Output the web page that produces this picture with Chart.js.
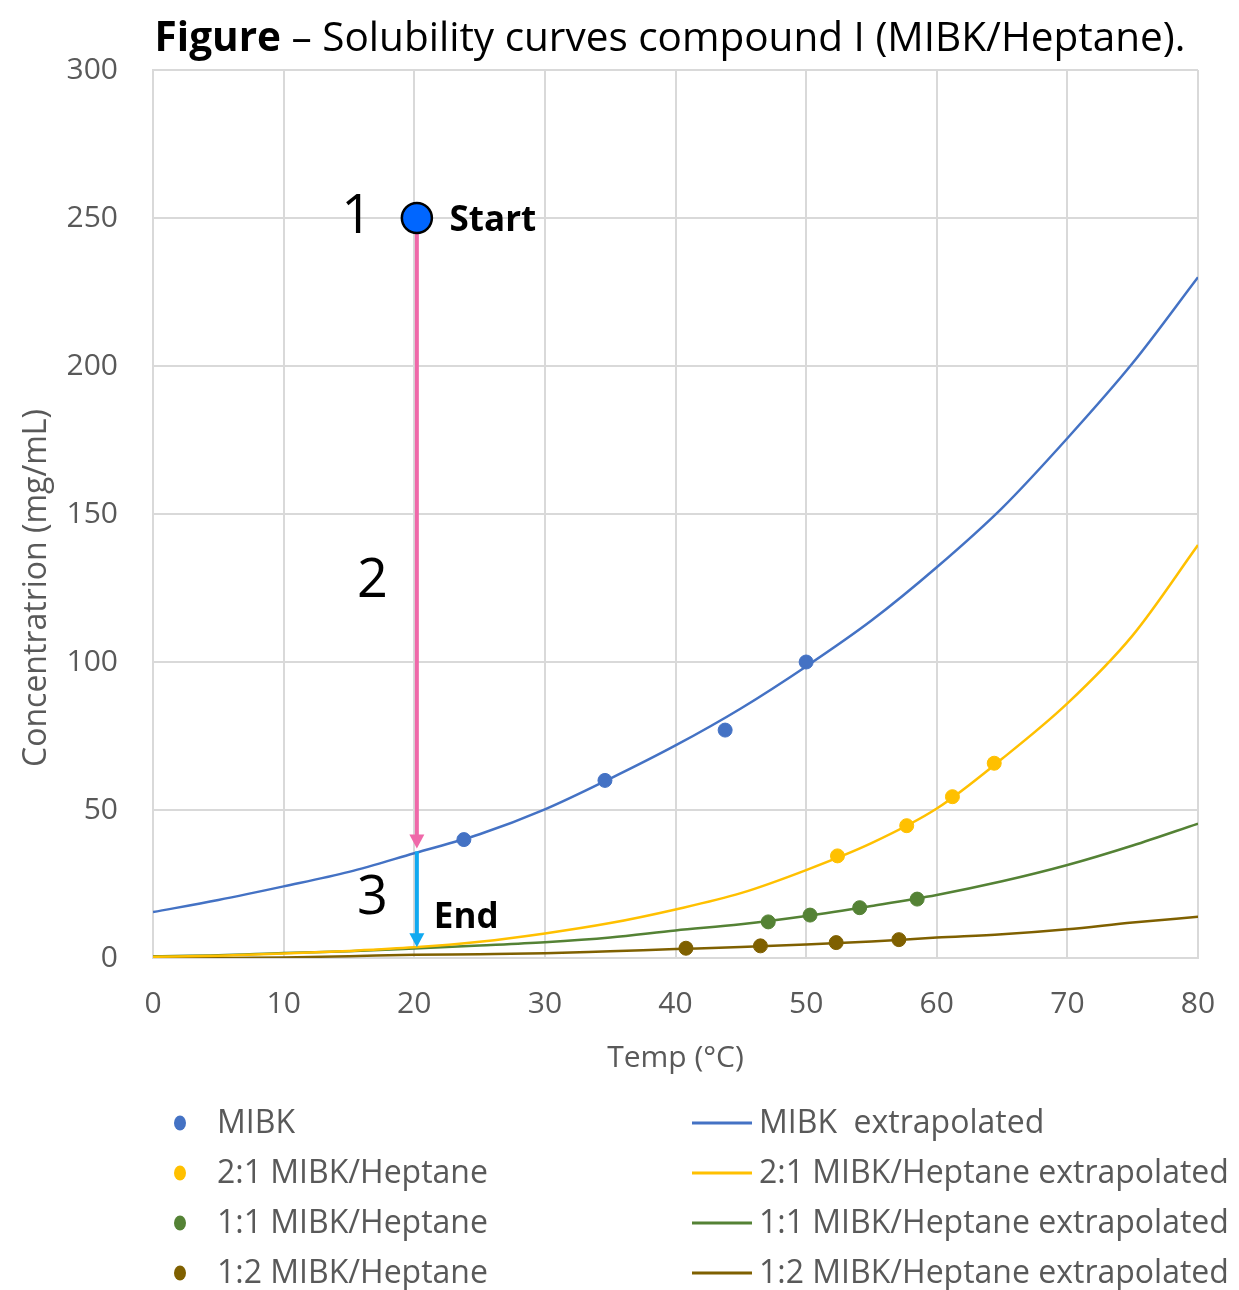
<!DOCTYPE html>
<html>
<head>
<meta charset="utf-8">
<script src="https://cdn.jsdelivr.net/npm/chart.js@4.4.1/dist/chart.umd.min.js"></script>
<style>
  html, body { margin: 0; padding: 0; background: #fff; }
</style>
</head>
<body>
<canvas id="myChart" width="1239" height="1290"></canvas>
<script>
// measured points
const mibkTemp = [23.8, 34.6, 43.8, 50.0];
const mibkConc = [40, 60, 77, 100];
const mix21Temp = [52.4, 57.7, 61.2, 64.4];
const mix21Conc = [34.5, 44.7, 54.5, 65.8];
const mix11Temp = [47.1, 50.3, 54.1, 58.5];
const mix11Conc = [12.2, 14.5, 17.0, 19.9];
const mix12Temp = [40.8, 46.5, 52.3, 57.1];
const mix12Conc = [3.3, 4.1, 5.2, 6.2];

const fitTemp = [0, 5, 10, 15, 20, 25, 30, 35, 40, 45, 50, 55, 60, 65, 70, 75, 80];
const mibkFit = [15.5, 19.6, 24.2, 29.1, 35.4, 41.8, 50.2, 60.6, 71.8, 84.3, 98.5, 114, 132, 152, 175.6, 201, 230];
const mix21Fit = [0.4, 0.8, 1.5, 2.4, 3.6, 5.5, 8.3, 11.8, 16.4, 21.9, 29.7, 38.8, 50.5, 67.3, 86, 109, 139.5];
const mix11Fit = [0.6, 0.9, 1.7, 2.3, 3.2, 4.2, 5.3, 6.9, 9.3, 11.4, 14.2, 17.6, 21.3, 25.9, 31.4, 38.0, 45.4];
const mix12Fit = [0, 0, 0.2, 0.6, 1.1, 1.3, 1.6, 2.3, 3.0, 3.7, 4.6, 5.6, 6.9, 8.0, 9.7, 12.0, 13.9];

// annotation: start point and the two arrows (temp, conc)
const startPoint = [20.2, 250];
const coolArrow = [20.2, 250, 37];   // x, from, to
const filterArrow = [20.2, 36, 3.6];
const stepLabels = ["1", "2", "3"];
const stepPos = [[15.6, 250], [16.8, 127], [16.8, 20]];

const gray = '#595959';
const grid = '#d9d9d9';

function pts(xs, ys) {
  return xs.map((x, i) => ({ x: x, y: ys[i] }));
}

function dots(label, xs, ys, color) {
  return {
    label: label,
    data: pts(xs, ys),
    backgroundColor: color,
    borderColor: color,
    pointRadius: 7,
    pointHoverRadius: 7,
    showLine: false
  };
}

function curve(label, ys, color) {
  return {
    label: label,
    data: pts(fitTemp, ys),
    borderColor: color,
    backgroundColor: color,
    borderWidth: 2.5,
    pointRadius: 0,
    showLine: true,
    cubicInterpolationMode: 'monotone'
  };
}

const datasets = [
  dots('MIBK', mibkTemp, mibkConc, '#4472C4'),
  dots('2:1 MIBK/Heptane', mix21Temp, mix21Conc, '#FFC000'),
  dots('1:1 MIBK/Heptane', mix11Temp, mix11Conc, '#548235'),
  dots('1:2 MIBK/Heptane', mix12Temp, mix12Conc, '#7F6000'),
  curve('MIBK  extrapolated', mibkFit, '#4472C4'),
  curve('2:1 MIBK/Heptane extrapolated', mix21Fit, '#FFC000'),
  curve('1:1 MIBK/Heptane extrapolated', mix11Fit, '#548235'),
  curve('1:2 MIBK/Heptane extrapolated', mix12Fit, '#7F6000')
];

function arrow(ctx, x, y1, y2, color) {
  ctx.save();
  ctx.strokeStyle = color;
  ctx.fillStyle = color;
  ctx.lineWidth = 4;
  ctx.beginPath();
  ctx.moveTo(x, y1);
  ctx.lineTo(x, y2 - 10);
  ctx.stroke();
  ctx.beginPath();
  ctx.moveTo(x - 7.5, y2 - 14);
  ctx.lineTo(x + 7.5, y2 - 14);
  ctx.lineTo(x, y2);
  ctx.closePath();
  ctx.fill();
  ctx.restore();
}

const annotations = {
  id: 'annotations',
  afterDatasetsDraw(chart) {
    const ctx = chart.ctx;
    const xs = chart.scales.x, ys = chart.scales.y;
    const ax = xs.getPixelForValue(coolArrow[0]);
    arrow(ctx, ax, ys.getPixelForValue(coolArrow[1]), ys.getPixelForValue(coolArrow[2]), '#EF69A9');
    arrow(ctx, ax, ys.getPixelForValue(filterArrow[1]), ys.getPixelForValue(filterArrow[2]), '#10A9F0');

    const sx = xs.getPixelForValue(startPoint[0]);
    const sy = ys.getPixelForValue(startPoint[1]);
    ctx.save();
    ctx.beginPath();
    ctx.arc(sx, sy, 15, 0, Math.PI * 2);
    ctx.fillStyle = '#0066FF';
    ctx.fill();
    ctx.lineWidth = 2.5;
    ctx.strokeStyle = '#000';
    ctx.stroke();

    ctx.fillStyle = '#000';
    ctx.textAlign = 'center';
    ctx.textBaseline = 'middle';
    ctx.font = "54px 'Open Sans'";
    stepLabels.forEach((t, i) => {
      ctx.fillText(t, xs.getPixelForValue(stepPos[i][0]), ys.getPixelForValue(stepPos[i][1]));
    });
    ctx.textAlign = 'left';
    ctx.font = "bold 35px 'Open Sans'";
    ctx.fillText('Start', xs.getPixelForValue(22.7), ys.getPixelForValue(249));
    ctx.fillText('End', xs.getPixelForValue(21.5), ys.getPixelForValue(13.5));

    // y axis title
    ctx.fillStyle = gray;
    ctx.font = "32px 'Open Sans'";
    ctx.textAlign = 'center';
    ctx.translate(37, 588);
    ctx.rotate(-Math.PI / 2);
    ctx.fillText('Concentratrion (mg/mL)', 0, 0);
    ctx.restore();
  }
};

const titleAndLegend = {
  id: 'titleAndLegend',
  afterDraw(chart) {
    const ctx = chart.ctx;
    ctx.save();
    // title
    ctx.textBaseline = 'alphabetic';
    ctx.fillStyle = '#000';
    const bold = "bold 40.5px 'Open Sans'";
    const normal = "40.5px 'Open Sans'";
    const a = 'Figure', b = ' \u2013 Solubility curves compound I (MIBK/Heptane).';
    ctx.font = bold;
    const wa = ctx.measureText(a).width;
    ctx.font = normal;
    const wb = ctx.measureText(b).width;
    let tx = 670 - (wa + wb) / 2;
    ctx.font = bold;
    ctx.fillText(a, tx, 51);
    ctx.font = normal;
    ctx.fillText(b, tx + wa, 51);

    // legend: dots left column, lines right column
    ctx.font = "32px 'Open Sans'";
    ctx.textBaseline = 'middle';
    const rows = [1123, 1173, 1223, 1273];
    chart.data.datasets.forEach((ds, i) => {
      const row = rows[i % 4];
      if (i < 4) {
        ctx.fillStyle = ds.backgroundColor;
        ctx.beginPath();
        ctx.ellipse(180, row, 6, 7.5, 0, 0, Math.PI * 2);
        ctx.fill();
        ctx.fillStyle = gray;
        ctx.fillText(ds.label, 217, row + 1);
      } else {
        ctx.strokeStyle = ds.borderColor;
        ctx.lineWidth = 3;
        ctx.beginPath();
        ctx.moveTo(692, row);
        ctx.lineTo(752, row);
        ctx.stroke();
        ctx.fillStyle = gray;
        ctx.fillText(ds.label, 759, row + 1);
      }
    });
    ctx.restore();
  }
};

Chart.defaults.font.family = "'Open Sans', sans-serif";

const ctx = document.getElementById('myChart').getContext('2d');
const myChart = new Chart(ctx, {
  type: 'scatter',
  data: { datasets: datasets },
  options: {
    responsive: false,
    animation: false,
    layout: { padding: { top: 70, right: 41, bottom: 214, left: 0 } },
    plugins: {
      legend: { display: false },
      tooltip: { enabled: false },
      title: { display: false }
    },
    scales: {
      x: {
        type: 'linear',
        min: 0,
        max: 80,
        afterFit: (scale) => { scale.height = 118; },
        ticks: { stepSize: 10, color: gray, font: { size: 30 }, padding: 4 },
        grid: { color: grid, lineWidth: 2, drawTicks: true, tickLength: 24, tickColor: 'rgba(0,0,0,0)' },
        border: { color: grid, width: 2 },
        title: { display: true, text: 'Temp (\u00B0C)', color: gray, font: { size: 30 }, padding: 0 }
      },
      y: {
        min: 0,
        max: 300,
        afterFit: (scale) => { scale.width = 153; },
        ticks: { stepSize: 50, color: gray, font: { size: 30 }, padding: 35 },
        grid: { color: grid, lineWidth: 2, drawTicks: false },
        border: { color: grid, width: 2 }
      }
    }
  },
  plugins: [annotations, titleAndLegend]
});
</script>
</body>
</html>
